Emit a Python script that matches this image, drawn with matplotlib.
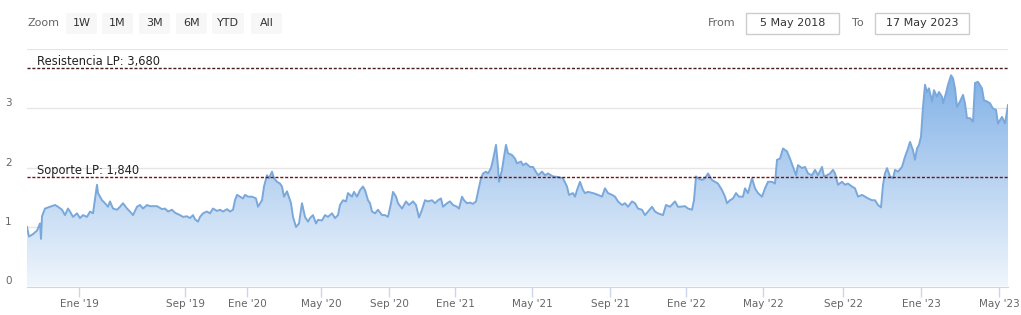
import numpy as np
import matplotlib
matplotlib.use("Agg")
import matplotlib.pyplot as plt
from matplotlib.patches import Polygon, FancyBboxPatch, Rectangle

# ordinal x axis (trading sessions, Highcharts-stock style)
session = [0, 2, 6, 10, 13, 14, 15, 18, 23, 28, 31, 35, 38, 41, 43, 46, 50, 53, 56, 60,
           63, 66, 70, 71, 75, 78, 81, 83, 86, 90, 93, 96, 100, 103, 106, 110, 113, 116, 120, 123,
           130, 135, 138, 141, 145, 148, 153, 156, 160, 163, 166, 168, 171, 173, 176, 180, 183, 186, 190, 193,
           196, 200, 203, 206, 208, 210, 213, 216, 218, 221, 225, 229, 231, 235, 237, 240, 242, 245, 247, 250,
           253, 255, 257, 260, 264, 266, 269, 272, 275, 278, 281, 283, 286, 289, 291, 295, 298, 301, 305, 308,
           311, 313, 316, 319, 321, 325, 327, 330, 333, 336, 338, 341, 343, 345, 348, 351, 355, 358, 361, 364,
           366, 369, 371, 375, 379, 382, 386, 389, 392, 395, 398, 401, 405, 408, 411, 414, 416, 420, 423, 426,
           430, 432, 435, 437, 440, 443, 446, 449, 451, 454, 456, 459, 461, 464, 466, 469, 471, 472, 475, 477,
           479, 481, 485, 488, 490, 494, 496, 499, 503, 506, 511, 515, 518, 521, 526, 531, 536, 540, 542, 546,
           548, 550, 553, 556, 558, 561, 566, 571, 575, 578, 581, 585, 588, 591, 595, 598, 601, 605, 608, 611,
           615, 618, 621, 625, 628, 631, 636, 639, 643, 648, 651, 653, 658, 661, 665, 667, 669, 671, 675, 678,
           681, 685, 688, 691, 695, 698, 700, 703, 706, 709, 712, 716, 718, 721, 725, 728, 731, 735, 738, 741,
           745, 748, 750, 753, 756, 760, 763, 766, 769, 771, 775, 778, 781, 785, 788, 791, 795, 797, 800, 803,
           806, 808, 811, 815, 818, 821, 825, 828, 831, 835, 838, 841, 845, 848, 851, 854, 856, 858, 860, 863,
           866, 868, 871, 875, 878, 881, 883, 886, 888, 890, 892, 894, 896, 898, 900, 902, 905, 907, 910, 912,
           915, 916, 919, 921, 924, 926, 928, 930, 933, 936, 938, 940, 943, 946, 948, 951, 955, 957, 960, 963,
           966, 969, 971, 975, 978, 981]
price = [1.00, 0.84, 0.88, 0.94, 1.06, 0.80, 1.18, 1.31, 1.34, 1.37, 1.34, 1.29, 1.20, 1.31, 1.26, 1.17, 1.23, 1.15, 1.20, 1.17,
         1.26, 1.23, 1.71, 1.57, 1.45, 1.40, 1.34, 1.43, 1.31, 1.29, 1.34, 1.40, 1.31, 1.26, 1.20, 1.34, 1.37, 1.31, 1.37, 1.35,
         1.35, 1.30, 1.31, 1.26, 1.29, 1.24, 1.20, 1.17, 1.18, 1.15, 1.20, 1.13, 1.09, 1.17, 1.23, 1.26, 1.23, 1.31, 1.27, 1.29,
         1.26, 1.30, 1.26, 1.29, 1.45, 1.54, 1.51, 1.48, 1.54, 1.51, 1.51, 1.48, 1.34, 1.45, 1.68, 1.87, 1.82, 1.93, 1.82, 1.76,
         1.73, 1.68, 1.51, 1.60, 1.40, 1.17, 1.00, 1.06, 1.40, 1.17, 1.09, 1.15, 1.20, 1.06, 1.12, 1.11, 1.20, 1.17, 1.23, 1.15,
         1.20, 1.37, 1.45, 1.43, 1.57, 1.51, 1.59, 1.51, 1.62, 1.68, 1.62, 1.45, 1.40, 1.26, 1.23, 1.29, 1.20, 1.20, 1.17, 1.40,
         1.59, 1.51, 1.40, 1.31, 1.43, 1.37, 1.43, 1.37, 1.16, 1.29, 1.45, 1.43, 1.45, 1.40, 1.45, 1.48, 1.34, 1.40, 1.43, 1.37,
         1.34, 1.31, 1.51, 1.45, 1.40, 1.41, 1.39, 1.43, 1.59, 1.82, 1.90, 1.93, 1.90, 1.99, 2.13, 2.38, 2.01, 1.76, 1.96, 2.18,
         2.38, 2.24, 2.21, 2.15, 2.07, 2.10, 2.04, 2.07, 2.01, 2.01, 1.87, 1.93, 1.87, 1.90, 1.85, 1.84, 1.82, 1.68, 1.54, 1.57,
         1.51, 1.62, 1.76, 1.62, 1.57, 1.59, 1.57, 1.54, 1.51, 1.65, 1.57, 1.54, 1.51, 1.43, 1.37, 1.40, 1.34, 1.43, 1.40, 1.31,
         1.29, 1.20, 1.26, 1.34, 1.26, 1.23, 1.20, 1.37, 1.34, 1.43, 1.34, 1.34, 1.35, 1.31, 1.29, 1.45, 1.85, 1.82, 1.79, 1.82,
         1.90, 1.79, 1.76, 1.73, 1.62, 1.51, 1.40, 1.45, 1.48, 1.57, 1.51, 1.51, 1.65, 1.57, 1.82, 1.65, 1.57, 1.51, 1.65, 1.76,
         1.76, 1.73, 2.13, 2.15, 2.32, 2.27, 2.15, 2.01, 1.87, 2.04, 1.99, 2.01, 1.90, 1.87, 1.96, 1.87, 2.01, 1.85, 1.87, 1.90,
         1.96, 1.90, 1.71, 1.76, 1.71, 1.73, 1.68, 1.65, 1.51, 1.54, 1.51, 1.48, 1.45, 1.45, 1.37, 1.33, 1.71, 1.90, 1.99, 1.85,
         1.82, 1.96, 1.93, 2.01, 2.18, 2.32, 2.43, 2.29, 2.13, 2.32, 2.38, 2.52, 3.02, 3.39, 3.27, 3.33, 3.11, 3.30, 3.19, 3.27,
         3.19, 3.08, 3.25, 3.39, 3.55, 3.50, 3.33, 3.02, 3.11, 3.22, 3.08, 2.83, 2.83, 2.77, 3.42, 3.44, 3.33, 3.13, 3.11, 3.08,
         2.99, 2.97, 2.74, 2.85, 2.74, 3.05]

tick_sessions = [52, 158, 220, 294, 362, 428, 505, 583, 659, 736, 816, 894, 972]
tick_labels = ["Ene '19", "Sep '19", "Ene '20", "May '20", "Sep '20", "Ene '21", "May '21",
               "Sep '21", "Ene '22", "May '22", "Sep '22", "Ene '23", "May '23"]

resistencia = 3.68
soporte = 1.84
zoom_buttons = ["1W", "1M", "3M", "6M", "YTD", "All"]
date_from = "5 May 2018"
date_to = "17 May 2023"

W, H = 1021, 315
fig = plt.figure(figsize=(W / 100, H / 100), dpi=100, facecolor="white")
ax = fig.add_axes([27 / W, 28.5 / H, 981 / W, 238 / H])

x = np.array(session)
y = np.array(price)

# gradient area fill
v = np.linspace(0, 4, 256)
a = np.clip(0.12 + 0.235 * v, 0, 0.95)
base = np.array([124, 174, 230]) / 255.0
grad = np.ones((256, 1, 4))
grad[:, 0, :3] = 1 - a[:, None] * (1 - base)
img = ax.imshow(grad, extent=[x.min(), x.max(), 0, 4], aspect="auto", origin="lower", zorder=1)
verts = np.vstack([[x[0], 0], np.column_stack([x, y]), [x[-1], 0]])
clip = Polygon(verts, closed=True, facecolor="none", edgecolor="none", transform=ax.transData)
ax.add_patch(clip)
img.set_clip_path(clip)

ax.plot(x, y, color="#7aa8db", lw=1.4, zorder=3, solid_joinstyle="round")

ax.axhline(resistencia, color="#4a1c1c", lw=1, ls=(0, (2.2, 1.3)), zorder=4)
ax.axhline(soporte, color="#7a1010", lw=1, ls=(0, (2.2, 1.3)), zorder=4)
ax.text(10, resistencia, "Resistencia LP: 3,680", fontsize=8.3, color="#222222", va="bottom", ha="left", zorder=5)
ax.text(10, soporte, "Soporte LP: 1,840", fontsize=8.3, color="#222222", va="bottom", ha="left", zorder=5)

ax.set_xlim(0, 981)
ax.set_ylim(0, 4)
ax.set_yticks([0, 1, 2, 3, 4])
ax.set_yticklabels(["0", "1", "2", "3", ""])
ax.yaxis.grid(True, color="#e6e6e6", lw=1)
ax.set_axisbelow(True)
ax.tick_params(axis="y", length=0, pad=11, labelsize=7.5, labelcolor="#666666")
for lbl in ax.get_yticklabels():
    lbl.set_verticalalignment("bottom")

ax.set_xticks(tick_sessions)
ax.set_xticklabels(tick_labels)
ax.tick_params(axis="x", length=7, width=1, color="#ccd6eb", pad=2, labelsize=7.5, labelcolor="#666666")

for s in ["top", "right", "left"]:
    ax.spines[s].set_visible(False)
ax.spines["bottom"].set_color("#ccd6eb")

# range selector bar on top
ov = fig.add_axes([0, 0, 1, 1])
ov.set_xlim(0, W)
ov.set_ylim(H, 0)
ov.axis("off")
ov.patch.set_alpha(0)

ov.text(27, 23.5, "Zoom", fontsize=8, color="#666666", va="center", ha="left")
btn_left = [66, 102, 139, 176, 212, 251]
btn_width = [31, 31, 31, 31, 32, 31]
for lab, bx, bw in zip(zoom_buttons, btn_left, btn_width):
    ov.add_patch(FancyBboxPatch((bx, 13), bw, 21, boxstyle="round,pad=0,rounding_size=2",
                                facecolor="#f7f7f7", edgecolor="none"))
    ov.text(bx + bw / 2, 23.5, lab, fontsize=8, color="#333333", va="center", ha="center")

ov.text(708, 23.5, "From", fontsize=8, color="#666666", va="center", ha="left")
ov.add_patch(Rectangle((746, 13), 93, 21, facecolor="white", edgecolor="#cccccc", lw=1))
ov.text(792.5, 23.5, date_from, fontsize=8, color="#333333", va="center", ha="center")
ov.text(852, 23.5, "To", fontsize=8, color="#666666", va="center", ha="left")
ov.add_patch(Rectangle((875, 13), 94, 21, facecolor="white", edgecolor="#cccccc", lw=1))
ov.text(922, 23.5, date_to, fontsize=8, color="#333333", va="center", ha="center")

fig.savefig("out.png", dpi=100, facecolor="white")
